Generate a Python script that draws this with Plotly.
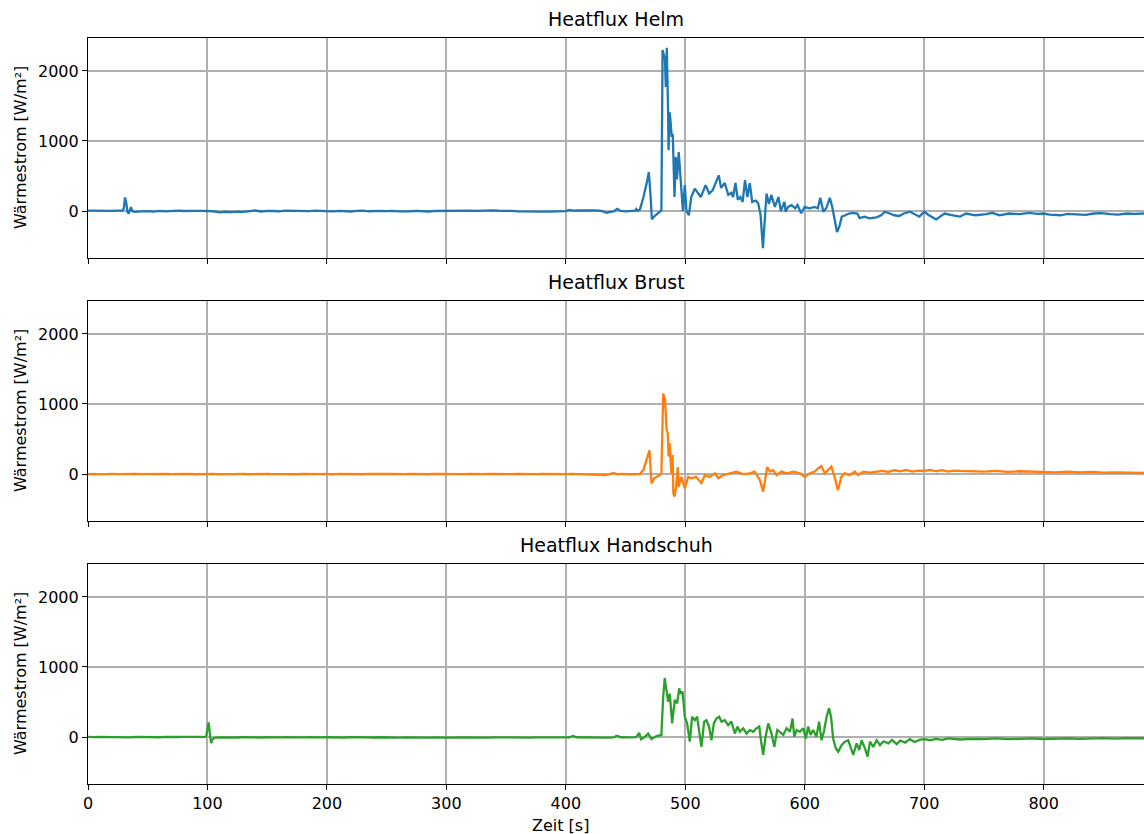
import plotly.graph_objects as go

# ---------------- data ----------------
helm = [(0,5),(5,3),(10,6),(15,2),(20,4),(25,6),(29,5),(30,40),(31,195),(32,120),(33,-10),(34,-35),
        (35,15),(36,55),(37,0),(39,-12),(45,-5),(50,0),(55,-8),(60,3),(65,-4),(70,2),(75,5),(80,1),
        (85,6),(90,2),(95,4),(100,3),(105,-3),(110,-18),(115,-10),(120,-15),(125,-8),(130,-12),(135,-5),
        (140,8),(145,-6),(150,4),(155,1),(160,-3),(165,5),(170,2),(175,-4),(180,3),(185,-2),(190,6),
        (195,1),(200,2),(205,-5),(210,3),(215,0),(220,-6),(225,2),(230,5),(235,-3),(240,1),(245,4),
        (250,-2),(255,3),(260,-5),(265,-8),(270,-3),(275,2),(280,-4),(285,-6),(290,1),(295,3),(300,5),
        (305,7),(310,4),(315,8),(320,6),(325,3),(330,7),(335,5),(340,9),(345,4),(350,6),(355,2),(360,-5),
        (365,-8),(370,-6),(375,-10),(380,-7),(385,-9),(390,-5),(395,-8),(400,0),(403,15),(406,5),(410,8),
        (415,10),(420,8),(425,9),(430,2),(434,-25),(437,-12),(440,-5),(443,30),(446,2),(450,-5),(455,0),
        (458,5),(459,30),(460,5),(462,20),(465,200),(468,420),(469.5,557),(471,200),(472,-115),(475,-60),
        (478.6,0),(480,10),(481,2300),(483,2160),(483.7,1770),(484.5,2330),(485.6,1440),(486,870),
        (487,1410),(488.7,1060),(489.5,1100),(491,200),(492,770),(493,450),(494.5,840),(496,490),(498,0),
        (499.6,370),(501,0),(503,-60),(505,200),(508,320),(510.5,250),(513,200),(517,370),(520,250),
        (523,300),(526,420),(528,510),(530,330),(533,400),(536,230),(538.5,260),(540,200),(542,400),
        (544,160),(546,200),(548,130),(550,440),(552,200),(554,400),(556,130),(559,150),(561,110),
        (563,-50),(565,-530),(566.5,-50),(568,250),(570,100),(572,230),(575,60),(578,200),(580,0),
        (583,130),(584,-10),(586,60),(589,85),(592,40),(594,85),(597,-30),(600,60),(604,40),(608,60),
        (611,40),(613,190),(615.6,-10),(618,40),(621,190),(623,60),(625,-130),(627,-300),(629,-220),
        (631,-80),(634,-60),(637,-35),(640,-25),(644,-35),(646,-100),(650,-80),(654,-105),(660,-90),
        (664,-60),(667,-10),(671,-35),(675,-60),(679,-70),(683,-35),(688,-10),(692,-50),(696,-80),
        (700,-10),(704,-60),(710,-120),(717,-35),(724,-60),(730,-80),(735,-35),(743,-60),(752,-45),
        (757,-25),(763,-60),(771,-35),(780,-45),(788,-25),(795,-40),(800,-35),(805,-50),(814,-60),
        (820,-40),(828,-45),(835,-55),(842,-35),(848,-30),(856,-45),(862,-50),(870,-35),(876,-40),(884,-35)]

brust = [(0,-3),(5,2),(10,-5),(15,0),(20,4),(25,-2),(30,1),(35,-6),(40,3),(45,-1),(50,2),(55,-4),
         (60,0),(65,3),(70,-2),(75,1),(80,-5),(85,2),(90,-3),(95,1),(100,-2),(105,3),(110,-4),(115,0),
         (120,-6),(125,-1),(130,2),(135,-3),(140,1),(145,-2),(150,3),(155,-1),(160,-4),(165,2),(170,0),
         (175,-3),(180,2),(185,-1),(190,3),(195,-2),(200,1),(205,-4),(210,2),(215,-1),(220,3),(225,0),
         (230,-3),(235,2),(240,-2),(245,1),(250,3),(255,-1),(260,-4),(265,0),(270,2),(275,-2),(280,1),
         (285,-3),(290,2),(295,0),(300,-2),(305,1),(310,3),(315,-1),(320,2),(325,-3),(330,0),(335,2),
         (340,-1),(345,3),(350,1),(355,-2),(360,2),(365,-1),(370,1),(375,-2),(380,2),(385,0),(390,-1),
         (395,2),(400,0),(405,3),(410,-1),(415,2),(420,0),(425,-3),(430,-12),(433,-15),(436,-4),(440,15),
         (443,-5),(447,2),(452,-3),(456,2),(460,0),(462,0),(465,60),(468,250),(470,340),(471.7,-135),
         (474,-60),(478.6,-15),(480,10),(481.5,1150),(483,1060),(484.4,630),(485.3,580),(486,250),
         (487,440),(488.3,10),(489.4,270),(490,-275),(491,-320),(492.3,-180),(493.7,100),(494.5,-180),
         (496.8,-40),(499.6,-205),(502.4,-40),(505,-60),(509,-40),(513.5,-130),(516.4,-15),(520.6,-40),
         (524.8,10),(527.6,-60),(531.8,-15),(537.4,10),(542.8,35),(548.4,0),(554,10),(558,35),
         (562.4,-85),(565.2,-250),(567.4,10),(568.6,100),(571,35),(573.6,55),(576.4,-15),(580.6,35),
         (584.8,10),(590.4,35),(596,10),(600,-40),(604.3,10),(608.4,35),(611.2,80),(614,115),(616.7,10),
         (619.5,55),(622.3,105),(625,-40),(627.8,-230),(630.6,-40),(633.4,10),(637.6,-15),(641.8,35),
         (644.6,-15),(648.8,35),(654.4,20),(660,35),(665,45),(670,30),(675,55),(680,40),(685,60),
         (690,35),(695,50),(700,45),(705,60),(710,40),(715,55),(720,35),(725,50),(730,45),(740,40),
         (750,35),(760,45),(770,30),(780,40),(790,35),(800,30),(810,25),(820,35),(830,25),(840,30),
         (850,20),(860,25),(870,20),(884,15)]

handschuh = [(0,3),(5,-2),(10,4),(15,1),(20,-3),(25,2),(30,0),(35,-4),(40,2),(45,-1),(50,3),(55,0),
             (60,-3),(65,2),(70,-2),(75,1),(80,3),(85,-1),(90,2),(95,2),(98,0),(99,15),(100,130),
             (101,210),(102,60),(103,-85),(104,-40),(106,-10),(110,-5),(115,-8),(120,-3),(125,-6),
             (130,-2),(135,-5),(140,-1),(145,-6),(150,-3),(155,-7),(160,-4),(165,-2),(170,-6),(175,-3),
             (180,-5),(185,-2),(190,-6),(195,-4),(200,-3),(205,-7),(210,-4),(215,-6),(220,-2),(225,-5),
             (230,-8),(235,-4),(240,-6),(245,-3),(250,-7),(255,-5),(260,-8),(265,-4),(270,-6),(275,-9),
             (280,-5),(285,-7),(290,-4),(295,-8),(300,-6),(305,-9),(310,-5),(315,-7),(320,-4),(325,-8),
             (330,-6),(335,-9),(340,-5),(345,-7),(350,-4),(355,-6),(360,-8),(365,-5),(370,-7),(375,-4),
             (380,-6),(385,-8),(390,-5),(395,-7),(400,-4),(403,-3),(406,15),(409,-3),(415,-6),(420,-4),
             (425,-7),(430,-5),(435,-8),(440,-4),(443,20),(446,-3),(450,-6),(455,-4),(459,-2),
             (461.4,60),(463,-30),(466,0),(468.9,50),(471.7,-30),(475.9,15),(480,30),(481.5,575),
             (482.8,840),(484.2,670),(485.6,505),(487,620),(489,195),(491.2,530),(493.2,480),(494.9,695),
             (496,620),(497.7,650),(499.6,290),(501.5,195),(503.8,-65),(505.7,290),(508,240),(509.9,290),
             (511.6,75),(513.5,-140),(515.8,220),(517.7,240),(519.9,150),(521.9,-45),(523.9,195),
             (526.1,265),(528.4,290),(530.3,220),(533.1,240),(535.9,170),(538.6,220),(541.5,50),
             (543.7,150),(545.7,75),(548.5,125),(551.3,50),(554,100),(556.9,75),(559.6,125),(561.9,150),
             (563.3,-45),(565.2,-255),(567.2,5),(569.5,195),(572.2,50),(574.5,-140),(577,100),(579.2,75),
             (582,30),(584.8,125),(587.6,75),(589.8,265),(591.2,5),(593.2,100),(596,75),(598.7,125),
             (600.9,-20),(602.9,150),(604.8,30),(607,100),(609.8,5),(612,220),(614,-45),(616,75),
             (618.3,290),(620.3,410),(622,290),(623.8,-20),(626,-160),(628,-210),(630.8,-115),
             (633.6,-65),(636.4,-45),(638.6,-160),(640.6,-255),(643.4,-90),(645.6,-185),(647.6,-45),
             (650.4,-160),(652.6,-280),(654.6,-65),(657.4,-140),(660.2,-45),(663,-115),(666,-60),
             (670,-90),(673,-40),(677,-100),(680,-50),(684,-80),(688,-30),(692,-70),(696,-40),(700,-30),
             (705,-45),(710,-25),(715,-40),(720,-20),(730,-35),(740,-25),(750,-30),(760,-20),(770,-30),
             (780,-25),(790,-20),(800,-28),(810,-22),(820,-18),(830,-25),(840,-20),(850,-15),(860,-22),
             (870,-15),(884,-18)]

titles = ["Heatflux Helm", "Heatflux Brust", "Heatflux Handschuh"]
colors = ["#1f77b4", "#ff7f0e", "#2ca02c"]
y_ticks = [0, 1000, 2000]
x_ticks = [0, 100, 200, 300, 400, 500, 600, 700, 800, 900]
y_label = "Wärmestrom [W/m²]"
x_label = "Zeit [s]"

# ---------------- figure ----------------
W, H = 1144, 834
ml, mr, mt, mb = 88, 0, 38, 50
ph = H - mt - mb
panel_h, gap = 220, 43
domains = []
for i in range(3):
    top = 1 - (i * (panel_h + gap)) / ph
    bot = top - panel_h / ph
    domains.append([max(bot, 0.0), min(top, 1.0)])

FONT = "DejaVu Sans"
fig = go.Figure()
series = [helm, brust, handschuh]
for i, s in enumerate(series):
    t = [p[0] for p in s]
    v = [p[1] for p in s]
    fig.add_trace(go.Scatter(x=t, y=v, mode="lines",
                             line=dict(color=colors[i], width=2.3),
                             xaxis="x" if i == 0 else f"x{i+1}",
                             yaxis="y" if i == 0 else f"y{i+1}",
                             showlegend=False, hoverinfo="skip"))

layout = dict(width=W, height=H, margin=dict(l=ml, r=mr, t=mt, b=mb),
              paper_bgcolor="white", plot_bgcolor="white", template="none",
              font=dict(family=FONT, size=16, color="black"), showlegend=False)
annotations = []
for i in range(3):
    sfx = "" if i == 0 else str(i + 1)
    layout["xaxis" + sfx] = dict(domain=[0, 1], anchor="y" + sfx, range=[0, 884],
                                 tickvals=x_ticks, showticklabels=(i == 2),
                                 ticks="outside", ticklen=5, tickwidth=1.2, tickcolor="black",
                                 showline=True, linecolor="black", linewidth=1.2, mirror=True,
                                 showgrid=True, gridcolor="#b0b0b0", gridwidth=1.6,
                                 zeroline=False, tickfont=dict(family=FONT, size=16, color="black"),
                                 **({} if i == 0 else {"matches": "x"}))
    layout["yaxis" + sfx] = dict(domain=domains[i], anchor="x" + sfx, range=[-670, 2470],
                                 tickvals=y_ticks, ticks="outside", ticklen=5, tickwidth=1.2,
                                 tickcolor="black", showline=True, linecolor="black", linewidth=1.2,
                                 mirror=False, showgrid=True, gridcolor="#b0b0b0", gridwidth=1.6,
                                 zeroline=False, tickfont=dict(family=FONT, size=16, color="black"))
    annotations.append(dict(text=titles[i], xref="paper", yref="paper", x=0.5, y=domains[i][1],
                            xanchor="center", yanchor="bottom", yshift=6, showarrow=False,
                            font=dict(family=FONT, size=19, color="black")))
    annotations.append(dict(text=y_label, xref="paper", yref="paper", x=-(ml - 20) / (W - ml - mr),
                            y=(domains[i][0] + domains[i][1]) / 2, xanchor="center", yanchor="middle",
                            textangle=-90, showarrow=False,
                            font=dict(family=FONT, size=16, color="black")))
annotations.append(dict(text=x_label, xref="paper", yref="paper", x=(560 - ml) / (W - ml - mr), y=0,
                        xanchor="center", yanchor="middle", yshift=-41, showarrow=False,
                        font=dict(family=FONT, size=16, color="black")))
layout["annotations"] = annotations
fig.update_layout(**layout)
fig.write_html("out.html")
